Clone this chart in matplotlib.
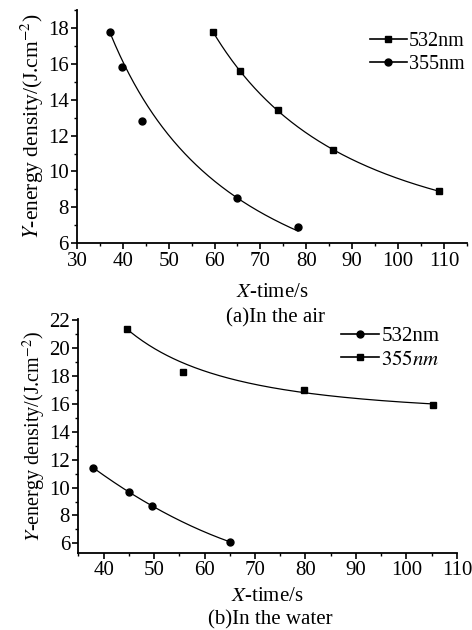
import numpy as np
import matplotlib
matplotlib.use('Agg')
import matplotlib.pyplot as plt
from matplotlib.ticker import MultipleLocator

plt.rcParams['font.family'] = ['Liberation Serif', 'DejaVu Serif']
plt.rcParams['mathtext.fontset'] = 'stix'

# (a) in the air
air_532_x = [59.6, 65.6, 73.8, 85.8, 109.0]
air_532_y = [17.8, 15.6, 13.4, 11.2, 8.9]
air_355_x = [37.3, 39.9, 44.2, 65.0, 78.2]
air_355_y = [17.8, 15.8, 12.8, 8.5, 6.9]

# (b) in the water
water_532_x = [38.0, 45.0, 49.5, 65.1]
water_532_y = [11.4, 9.7, 8.7, 6.1]
water_355_x = [44.7, 55.8, 79.8, 105.2]
water_355_y = [21.4, 18.3, 17.0, 15.9]


def fit_inv(x, y, w=None, n=200):
    # quadratic fit in 1/x
    x = np.asarray(x); y = np.asarray(y)
    c = np.polyfit(1.0 / x, y, 2, w=w)
    xs = np.linspace(x.min(), x.max(), n)
    return xs, np.polyval(c, 1.0 / xs)


def fit_pow(x, y, w=None, n=200):
    # power law fit
    x = np.asarray(x); y = np.asarray(y)
    c = np.polyfit(np.log(x), np.log(y), 1, w=w)
    xs = np.linspace(x.min(), x.max(), n)
    return xs, np.exp(np.polyval(c, np.log(xs)))


def style_axes(ax, ylab_size, xpad):
    for s in ['top', 'right']:
        ax.spines[s].set_visible(False)
    ax.spines['left'].set_linewidth(1.3)
    ax.spines['bottom'].set_linewidth(1.3)
    ax.xaxis.set_minor_locator(MultipleLocator(5))
    ax.yaxis.set_minor_locator(MultipleLocator(1))
    ax.tick_params(which='major', direction='out', length=4, width=1.2, labelsize=15, pad=2)
    ax.tick_params(which='minor', direction='out', length=2.5, width=1)
    ax.set_xlabel('$X$-time/s', fontsize=15, labelpad=xpad)
    ax.set_ylabel('$Y$-energy density/(J.cm$^{-2}$)', fontsize=ylab_size, labelpad=1)


leg_kw = dict(loc='upper left', frameon=False, handlelength=1.85,
              handletextpad=0.1, labelspacing=0.2, borderaxespad=0, borderpad=0)

fig = plt.figure(figsize=(4.72, 6.3), dpi=100)

# top panel
ax1 = fig.add_axes([0.163, 0.614, 0.826, 0.37])
xs, ys = fit_inv(air_532_x, air_532_y)
ax1.plot(xs, ys, color='black', lw=0.9)
ax1.plot(air_532_x, air_532_y, 's', color='black', ms=5)
xs, ys = fit_pow(air_355_x, air_355_y, w=[5, 2, 1, 1, 1])
ax1.plot(xs, ys, color='black', lw=0.9)
ax1.plot(air_355_x, air_355_y, 'o', color='black', ms=5)
h1, = ax1.plot([], [], '-s', color='black', ms=5, lw=1.2)
h2, = ax1.plot([], [], '-o', color='black', ms=5, lw=1.2)
ax1.legend([h1, h2], ['532nm', '355nm'], bbox_to_anchor=(0.783, 0.949),
           bbox_transform=fig.transFigure, fontsize=14.5, **leg_kw)
ax1.set_xlim(30, 115)
ax1.set_ylim(6, 19)
ax1.xaxis.set_major_locator(MultipleLocator(10))
ax1.yaxis.set_major_locator(MultipleLocator(2))
style_axes(ax1, 15.5, 9)
fig.text(0.583, 0.495, '(a)In the air', ha='center', va='center', fontsize=15)

# bottom panel
ax2 = fig.add_axes([0.166, 0.122, 0.802, 0.372])
xs, ys = fit_inv(water_355_x, water_355_y, w=[2, 1, 2, 2])
ax2.plot(xs, ys, color='black', lw=0.9)
ax2.plot(water_355_x, water_355_y, 's', color='black', ms=5)
c = np.polyfit(water_532_x, water_532_y, 2)
xs = np.linspace(min(water_532_x), max(water_532_x), 200)
ax2.plot(xs, np.polyval(c, xs), color='black', lw=0.9)
ax2.plot(water_532_x, water_532_y, 'o', color='black', ms=5)
h1, = ax2.plot([], [], '-o', color='black', ms=5, lw=1.2)
h2, = ax2.plot([], [], '-s', color='black', ms=5, lw=1.2)
ax2.legend([h1, h2], ['532nm', '$355nm$'], bbox_to_anchor=(0.722, 0.482),
           bbox_transform=fig.transFigure, fontsize=15, **leg_kw)
ax2.set_xlim(35, 110)
ax2.set_ylim(5.3, 22.1)
ax2.xaxis.set_major_locator(MultipleLocator(10))
ax2.yaxis.set_major_locator(MultipleLocator(2))
style_axes(ax2, 14.5, 5)
fig.text(0.572, 0.016, '(b)In the water', ha='center', va='center', fontsize=15)

fig.savefig('out.png', dpi=100)
